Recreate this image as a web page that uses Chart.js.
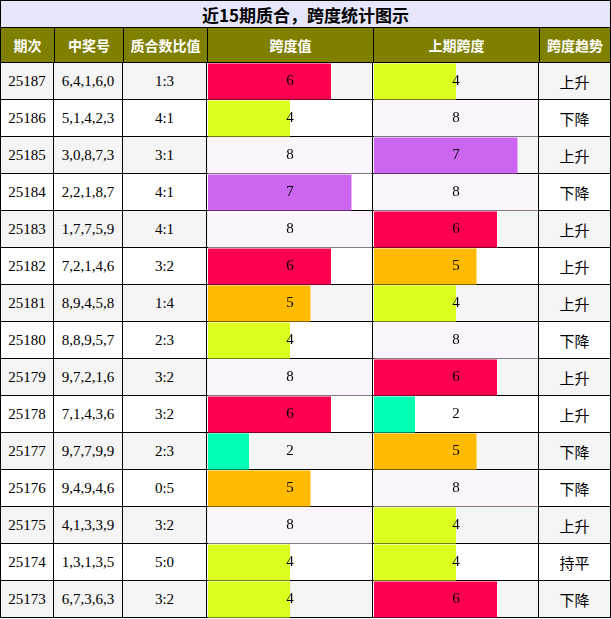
<!DOCTYPE html>
<html><head><meta charset="utf-8">
<script src="https://cdn.jsdelivr.net/npm/chart.js@4"></script>
<style>
body{margin:0;background:#fff;}
#wrap{position:relative;width:611px;height:619px;}
.c{position:absolute;box-sizing:border-box;border-right:1px solid #000;border-bottom:1px solid #000;display:flex;align-items:center;justify-content:center;}
.t{font-family:"Liberation Serif",serif;font-size:15px;color:#000;}
.h{background:#808000;color:#fff;font-family:"Noto Sans CJK SC",sans-serif;font-weight:bold;font-size:14px;}
.cn{font-family:"Noto Sans CJK SC",sans-serif;font-size:15px;}
canvas{position:absolute;}
</style></head><body>
<div id="wrap"></div>
<script>
const issues = ['25187','25186','25185','25184','25183','25182','25181','25180','25179','25178','25177','25176','25175','25174','25173'];
const numbers = ['6,4,1,6,0','5,1,4,2,3','3,0,8,7,3','2,2,1,8,7','1,7,7,5,9','7,2,1,4,6','8,9,4,5,8','8,8,9,5,7','9,7,2,1,6','7,1,4,3,6','9,7,7,9,9','9,4,9,4,6','4,1,3,3,9','1,3,1,3,5','6,7,3,6,3'];
const ratios = ['1:3','4:1','3:1','4:1','4:1','3:2','1:4','2:3','3:2','3:2','2:3','0:5','3:2','5:0','3:2'];
const spans = [6,4,8,7,8,6,5,4,8,6,2,5,8,4,4];
const prevSpans = [4,8,7,8,6,5,4,8,6,2,5,8,4,4,6];
const trends = ['上升','下降','上升','下降','上升','上升','上升','下降','上升','上升','下降','下降','上升','持平','下降'];
const headers = ['期次','中奖号','质合数比值','跨度值','上期跨度','跨度趋势'];
const spanColors = {2:'#00ffb4',4:'#dcff1e',5:'#ffbb00',6:'#ff0050',7:'#cc66f0',8:'#fdf5fd'};

const xs = [0,54,123,207,373,539,611];
const top0 = 63, rowH = 37;
const wrap = document.getElementById('wrap');
function cell(x,y,w,h,cls,txt,bg){
  const d=document.createElement('div');d.className='c '+cls;
  Object.assign(d.style,{left:x+'px',top:y+'px',width:w+'px',height:h+'px'});
  if(bg)d.style.background=bg;d.textContent=txt;wrap.appendChild(d);
}
const title=cell(0,0,611,29,'','近15期质合，跨度统计图示','#e6e6fa');
wrap.lastChild.style.cssText+='font-family:"Noto Sans CJK SC",sans-serif;font-weight:bold;font-size:17px;border:1px solid #000;border-bottom:2px solid #000';
headers.forEach((h,i)=>cell(xs[i],28,xs[i+1]-xs[i]+(i==5?0:1),35,'h',h));
wrap.querySelectorAll('.h').forEach(e=>{e.style.borderColor='#000';e.style.borderLeft='1px solid #000';});
issues.forEach((iss,r)=>{
  const y=top0+r*rowH, bg=r%2==0?'#f5f5f5':'#fff';
  const vals=[iss,numbers[r],ratios[r],'','',trends[r]];
  vals.forEach((v,i)=>{
    cell(xs[i],y,xs[i+1]-xs[i]+(i==0?0:0),rowH,i==5?'cn':'t',v,bg);
    if(i==0)wrap.lastChild.style.borderLeft='1px solid #000';
  });
});

function makeChart(data,x){
  const cv=document.createElement('canvas');
  Object.assign(cv.style,{left:(x+1)+'px',top:top0+'px',width:'164px',height:(rowH*15)+'px'});
  cv.width=164;cv.height=rowH*15;wrap.appendChild(cv);
  new Chart(cv,{type:'bar',
    data:{labels:issues,datasets:[{data:data,backgroundColor:data.map(v=>spanColors[v]),barPercentage:0.97,categoryPercentage:1}]},
    options:{indexAxis:'y',responsive:false,animation:false,
      layout:{padding:0},
      plugins:{legend:{display:false},tooltip:{enabled:false}},
      scales:{x:{display:false,min:0,max:8},y:{display:false}}},
    plugins:[{id:'lbl',afterDatasetsDraw(ch){
      const ctx=ch.ctx;ctx.save();ctx.font='15px "Liberation Serif"';ctx.fillStyle='#000';
      ctx.textAlign='center';ctx.textBaseline='middle';
      ch.getDatasetMeta(0).data.forEach((b,i)=>ctx.fillText(data[i],82,b.y));ctx.restore();}}]
  });
}
makeChart(spans,xs[3]);
makeChart(prevSpans,xs[4]);
</script></body></html>
